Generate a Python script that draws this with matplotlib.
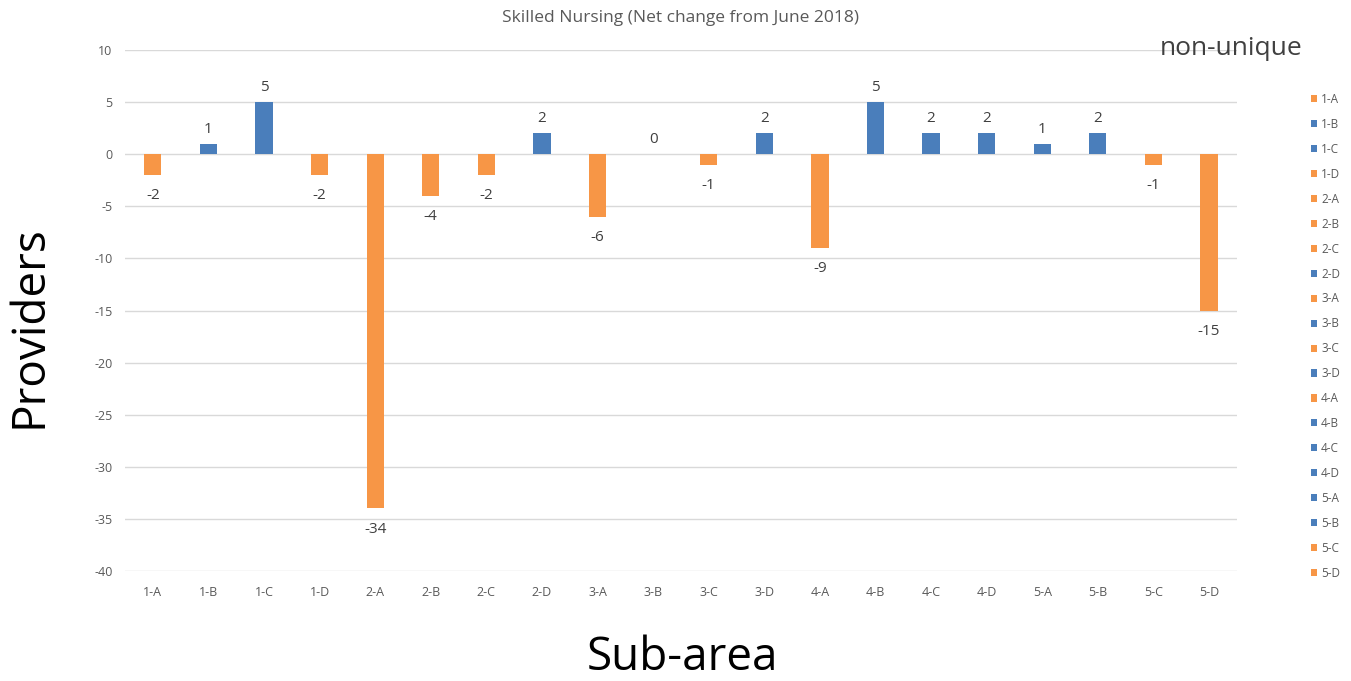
import matplotlib
matplotlib.use('Agg')
import matplotlib.pyplot as plt
from matplotlib.patches import Patch
import numpy as np

# ========== Datos ==========
sub_areas = ['1-A', '1-B', '1-C', '1-D', '2-A', '2-B', '2-C', '2-D', '3-A', '3-B',
             '3-C', '3-D', '4-A', '4-B', '4-C', '4-D', '5-A', '5-B', '5-C', '5-D']
net_change = [-2, 1, 5, -2, -34, -4, -2, 2, -6, 0,
              -1, 2, -9, 5, 2, 2, 1, 2, -1, -15]
y_ticks = [10, 5, 0, -5, -10, -15, -20, -25, -30, -35, -40]

orange = '#F79646'
blue = '#4A7EBB'
gray_text = '#595959'

plt.rcParams['font.family'] = ['Open Sans', 'DejaVu Sans']
plt.rcParams['axes.unicode_minus'] = False

fig = plt.figure(figsize=(13.51, 6.81), dpi=100)
ax = fig.add_axes([0.0925, 0.1615, 0.823, 0.7651])

x = np.arange(len(sub_areas))
colors = [blue if v >= 0 else orange for v in net_change]
bars = ax.bar(x, net_change, width=0.31, color=colors, zorder=3)

for xi, v in zip(x, net_change):
    if v >= 0:
        ax.annotate(str(v), (xi, v), xytext=(0, 5), textcoords='offset points',
                    ha='center', va='bottom', fontsize=11, color='#404040')
    else:
        ax.annotate(str(v), (xi, v), xytext=(0, -9.5), textcoords='offset points',
                    ha='center', va='top', fontsize=11, color='#404040')

ax.set_xlim(-0.5, len(sub_areas) - 0.5)
ax.set_ylim(-40, 10)
ax.set_yticks(y_ticks)
ax.set_xticks(x)
ax.set_xticklabels(sub_areas)
ax.tick_params(axis='both', length=0, labelsize=9, colors=gray_text)
ax.tick_params(axis='y', pad=9)
ax.tick_params(axis='x', pad=11)
ax.grid(axis='y', color='#D9D9D9', linewidth=1, zorder=0)
for s in ax.spines.values():
    s.set_visible(False)

ax.set_title('Skilled Nursing (Net change from June 2018)', fontsize=12.5, color=gray_text, pad=20)
fig.text(0.022, 0.52, 'Providers', rotation=90, fontsize=33, ha='center', va='center', color='black')
fig.text(0.505, 0.034, 'Sub-area', fontsize=33, ha='center', va='center', color='black')
fig.text(0.964, 0.929, 'non-unique', fontsize=19, ha='right', va='center', color='#404040')

handles = [Patch(facecolor=c, edgecolor='none', label=l) for c, l in zip(colors, sub_areas)]
leg = fig.legend(handles=handles, loc='upper left', bbox_to_anchor=(0.966, 0.872),
                 frameon=False, fontsize=8.5, labelspacing=1.01, handlelength=0.55,
                 handleheight=0.55, handletextpad=0.3, borderpad=0)
for t in leg.get_texts():
    t.set_color(gray_text)

plt.savefig('out.png', dpi=100)
plt.close(fig)
